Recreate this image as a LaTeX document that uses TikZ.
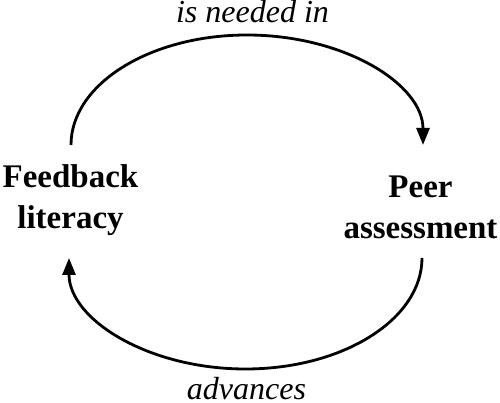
\documentclass[tikz,border=0pt]{standalone}
\usepackage{fontspec}
\setmainfont{Liberation Serif}
\usetikzlibrary{arrows.meta}
\begin{document}
\begin{tikzpicture}[x=1pt,y=1pt,
  concept/.style={font=\bfseries\fontsize{33}{41}\selectfont, align=center, inner sep=0pt},
  relabel/.style={font=\itshape\fontsize{32}{38}\selectfont, inner sep=0pt, anchor=base},
  flow/.style={line width=2.8pt, -{Triangle[length=17pt,width=13pt]}}]
\useasboundingbox (0,0) rectangle (500,403);
\node[concept] (fl) at (70.5,203) {Feedback\\literacy};
\node[concept] (pa) at (420.5,196) {Peer\\assessment};
\coordinate (flTop) at (71,258);
\coordinate (paTop) at (423,258);
\coordinate (paBot) at (422,145);
\coordinate (flBot) at (69,145);
\draw[flow] (flTop) arc[start angle=180, end angle=0, x radius=176, y radius=110];
\draw[flow] (paBot) arc[start angle=0, end angle=-180, x radius=176.5, y radius=111];
\node[relabel] (need) at (252.5,380) {is needed in};
\node[relabel] (adv) at (246.5,3) {advances};
\end{tikzpicture}
\end{document}
